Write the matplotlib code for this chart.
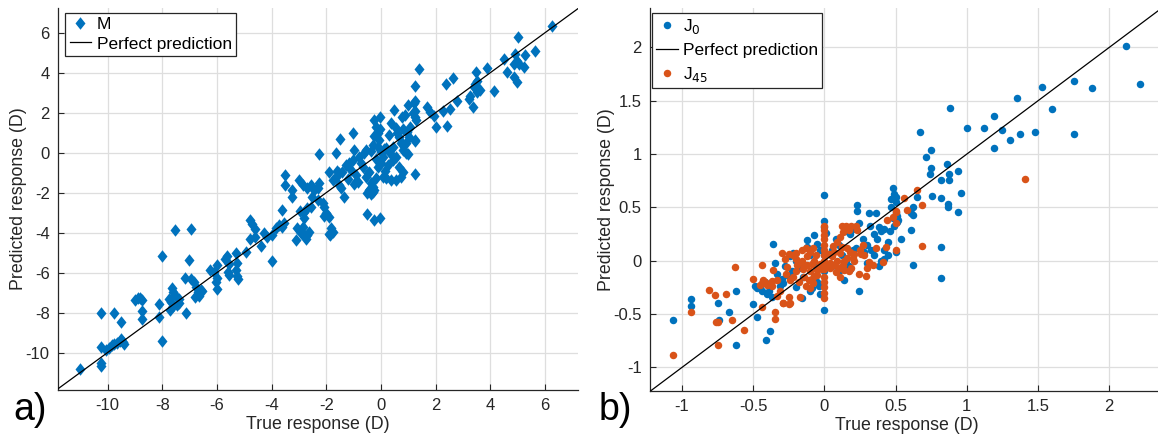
import numpy as np
import matplotlib
matplotlib.use("Agg")
import matplotlib.pyplot as plt
from matplotlib.lines import Line2D
from matplotlib.ticker import FuncFormatter

plt.rcParams['font.family'] = ['Liberation Sans', 'DejaVu Sans']
plt.rcParams['axes.unicode_minus'] = False

"""
Data read off the reference (true response, predicted response) [D]
"""

m_pairs = [
    (-11.0, -10.8),
    (-10.25, -8.03), (-10.25, -9.7), (-10.25, -10.5), (-10.22, -10.65),
    (-10.05, -9.87), (-9.95, -9.75), (-9.85, -9.62), (-9.75, -9.55), (-9.65, -9.5),
    (-9.55, -9.4), (-9.45, -9.45), (-9.38, -9.55), (-9.5, -9.3),
    (-9.75, -8.0), (-9.5, -8.45),
    (-9.0, -7.35), (-8.9, -7.27), (-8.8, -7.27), (-8.73, -7.37),
    (-8.75, -7.9), (-8.75, -8.3),
    (-8.13, -7.57), (-8.13, -8.2),
    (-8.02, -5.17), (-8.0, -9.4),
    (-7.54, -3.87), (-6.93, -3.8), (-7.03, -5.37), (-7.18, -6.25), (-7.14, -8.03),
    (-7.66, -6.78), (-7.6, -6.95), (-7.54, -7.12), (-7.75, -7.3), (-7.68, -7.45),
    (-7.72, -7.85), (-7.6, -7.65), (-7.45, -7.6), (-7.38, -7.5), (-7.4, -7.3),
    (-6.93, -6.3), (-6.82, -6.45), (-6.75, -6.7), (-6.7, -6.95), (-6.65, -7.15),
    (-6.8, -7.2), (-6.6, -6.85), (-6.55, -6.9),
    (-6.25, -5.85), (-6.12, -5.95), (-6.0, -5.6), (-6.0, -6.25), (-6.0, -6.8), (-6.05, -6.45),
    (-5.7, -5.3), (-5.65, -5.15), (-5.55, -5.55), (-5.55, -6.1), (-5.6, -5.95),
    (-5.3, -5.85), (-5.27, -6.15), (-5.22, -6.3), (-5.3, -5.0), (-5.25, -5.5),
    (-4.93, -4.95),
    (-4.8, -3.37), (-4.7, -3.55), (-4.62, -3.8), (-4.8, -4.3),
    (-4.59, -4.2), (-4.4, -4.65), (-4.28, -4.03), (-4.16, -4.2), (-3.98, -4.12),
    (-3.85, -3.78), (-3.73, -3.62), (-3.61, -2.87), (-3.61, -3.7), (-3.55, -3.5),
    (-4.0, -5.42),
    (-3.51, -1.12), (-3.51, -1.62), (-3.24, -1.87), (-3.27, -2.2),
    (-3.12, -4.37), (-3.06, -3.78), (-2.94, -4.03), (-2.81, -4.12), (-2.69, -4.12),
    (-2.63, -3.95), (-2.87, -3.7), (-2.81, -3.28), (-2.75, -4.3),
    (-3.0, -1.37), (-2.87, -1.62), (-2.69, -1.78), (-2.57, -1.62), (-2.45, -1.87),
    (-2.26, -1.53), (-2.3, -1.75),
    (-2.69, -2.78), (-2.57, -2.7), (-2.81, -2.95), (-2.95, -2.9),
    (-2.51, -2.2), (-2.32, -2.37), (-2.14, -2.53), (-2.08, -2.7), (-2.02, -3.03),
    (-1.9, -3.2), (-2.1, -3.15),
    (-2.26, -0.05),
    (-1.83, -3.78), (-1.77, -3.95), (-1.9, -4.05), (-1.85, -4.1),
    (-1.9, -0.95), (-1.77, -1.37), (-1.65, -1.2), (-1.53, -1.03), (-1.41, -0.95),
    (-1.28, -0.62), (-1.37, -2.2), (-1.6, -0.9), (-1.55, -1.6), (-1.45, -1.75), (-1.2, -1.3),
    (-1.63, 0.0), (-1.5, 0.67),
    (-1.16, -0.53), (-1.1, -0.87), (-1.04, -0.37), (-0.98, 0.13), (-1.02, 0.97),
    (-1.0, -1.55), (-0.9, -1.1), (-0.85, -1.45),
    (-0.8, -0.2), (-0.73, -0.53), (-0.67, -0.7), (-0.61, -0.03), (-0.55, 0.13),
    (-0.49, -1.03), (-0.43, -0.95), (-0.37, -1.53), (-0.43, -1.87), (-0.55, -1.2),
    (-0.5, -2.0), (-0.4, -1.8), (-0.3, -1.95), (-0.35, -2.05),
    (-0.53, -3.07), (-0.26, -3.37), (-0.03, -3.25),
    (-0.25, 1.63), (-0.04, 1.8), (-0.18, 1.3), (-0.12, 0.97), (-0.06, 0.63),
    (-0.12, 0.3), (0.0, 0.05), (0.06, -0.2), (0.0, -0.53), (0.06, -1.2),
    (-0.18, -1.28), (-0.31, -1.7), (-0.24, -1.87), (-0.3, 0.4), (-0.35, 0.1),
    (-0.2, -0.3), (-0.1, -0.7), (0.1, 0.2), (-0.05, 1.2), (-0.25, 0.85),
    (0.18, 0.22), (0.31, -0.03), (0.43, -0.37), (0.55, -0.2), (0.67, -0.7),
    (0.73, -1.2), (0.8, -0.95), (0.55, -1.37), (0.37, -1.37), (0.18, -1.28),
    (0.25, -0.6), (0.15, -0.9),
    (0.37, 1.47), (0.49, 2.13), (0.55, 1.22), (0.67, 0.8), (0.73, 0.47),
    (0.8, 0.13), (0.92, 0.47), (0.92, -0.03), (1.04, 0.8), (0.86, 1.88),
    (0.98, 2.38), (1.16, 1.97), (1.2, 2.47), (1.29, 1.63), (1.25, 0.63),
    (1.25, -1.05), (1.0, -0.07),
    (0.75, 1.77), (0.82, 1.18), (0.94, 1.02), (1.06, 1.27), (0.82, 0.43),
    (0.6, 1.0), (0.45, 0.3), (0.3, 0.9),
    (1.24, 3.35), (1.24, 2.6), (1.24, 2.1), (1.24, 1.77), (1.24, 0.6),
    (1.4, 4.18),
    (1.67, 2.27), (1.79, 2.02), (1.94, 1.84),
    (2.01, 1.3), (2.28, 2.1), (2.38, 3.43), (2.4, 1.35), (2.53, 2.18),
    (2.62, 3.73), (2.77, 2.6),
    (3.2, 2.68), (3.26, 2.85), (3.36, 2.27), (3.38, 3.3), (3.44, 3.43),
    (3.5, 3.6), (3.48, 4.02), (3.56, 3.18), (3.62, 3.13), (3.5, 3.02),
    (3.87, 4.22), (4.14, 3.1),
    (4.48, 4.68), (4.6, 4.05), (4.87, 3.77), (4.97, 3.52), (4.9, 4.93),
    (4.97, 4.6), (4.85, 4.43), (5.03, 4.43), (4.99, 5.8), (5.27, 4.9),
    (5.24, 4.3), (5.64, 5.1),
    (6.25, 6.35),
]

j0_pairs = [
    (-1.06, -0.56), (-0.94, -0.36), (-0.94, -0.42), (-0.75, -0.4), (-0.74, -0.56),
    (-0.67, -0.48), (-0.62, -0.28), (-0.62, -0.79), (-0.41, -0.74), (-0.38, -0.66),
    (-0.5, -0.41), (-0.47, -0.53),
    (-0.47, -0.26), (-0.49, -0.24), (-0.44, -0.28), (-0.4, -0.31), (-0.37, -0.34),
    (-0.39, -0.28), (-0.45, -0.26), (-0.36, 0.16), (-0.42, -0.2),
    (-0.33, -0.12), (-0.3, -0.17), (-0.26, -0.13), (-0.29, -0.21), (-0.31, -0.24),
    (-0.28, -0.05), (-0.35, -0.02),
    (-0.22, 0.07), (-0.24, 0.04), (-0.2, 0.0), (-0.18, -0.07), (-0.23, -0.1),
    (-0.15, -0.15), (-0.2, -0.25), (-0.1, -0.28), (-0.09, -0.26), (-0.04, -0.24),
    (-0.03, -0.31), (-0.16, -0.35), (-0.05, -0.2),
    (-0.12, 0.19), (-0.075, 0.24), (-0.12, 0.13), (-0.05, 0.16), (-0.03, 0.1),
    (-0.1, 0.05), (-0.06, -0.05),
    (0.0, 0.62), (0.0, 0.37), (0.0, 0.32), (0.01, 0.26), (0.0, -0.46),
    (0.0, 0.05), (0.0, -0.1),
    (0.05, 0.1), (0.1, 0.15), (0.12, 0.05), (0.15, 0.0), (0.1, -0.1),
    (0.18, -0.08), (0.2, 0.1), (0.05, -0.05), (0.14, -0.18), (0.08, 0.2),
    (0.18, 0.25), (0.2, 0.3), (0.15, 0.28), (0.22, 0.12), (0.17, -0.05),
    (0.23, 0.52), (0.23, 0.47), (0.31, 0.445), (0.36, 0.445), (0.24, -0.28),
    (0.24, 0.35), (0.27, 0.2), (0.3, 0.15), (0.33, 0.1), (0.35, 0.05),
    (0.3, -0.02), (0.38, -0.05), (0.4, 0.0), (0.42, 0.02), (0.45, 0.05),
    (0.5, 0.08), (0.38, 0.32), (0.4, 0.28), (0.42, 0.3), (0.37, 0.2),
    (0.35, 0.25), (0.45, 0.18), (0.32, 0.33), (0.28, 0.08), (0.42, 0.1),
    (0.48, 0.68), (0.49, 0.63), (0.47, 0.58), (0.5, 0.55), (0.47, 0.5),
    (0.5, 0.45), (0.48, 0.4), (0.51, 0.36), (0.49, 0.33), (0.46, 0.28),
    (0.52, 0.38), (0.51, 0.42), (0.5, 0.6),
    (0.65, 0.6), (0.62, 0.5), (0.61, 0.45), (0.62, 0.43), (0.61, 0.29),
    (0.54, 0.2), (0.62, -0.04),
    (0.67, 1.21), (0.75, 1.04), (0.71, 0.97), (0.75, 0.87), (0.74, 0.815),
    (0.86, 0.906), (0.875, 0.815), (0.82, 0.76), (0.875, 0.76), (0.94, 0.84),
    (0.96, 0.636), (0.82, 0.59), (0.755, 0.61), (0.87, 0.536), (0.87, 0.505),
    (0.94, 0.46), (0.82, 0.125), (0.82, -0.16), (0.88, 1.43),
    (1.0, 1.245), (1.12, 1.24), (1.19, 1.36), (1.25, 1.23), (1.19, 1.056),
    (1.3, 1.135), (1.376, 1.19), (1.477, 1.21), (1.355, 1.53), (1.53, 1.63),
    (1.6, 1.42), (1.75, 1.69), (1.88, 1.62), (1.75, 1.19), (2.116, 2.016),
    (2.217, 1.655),
]

j45_pairs = [
    (-1.06, -0.88), (-0.94, -0.48), (-0.81, -0.27), (-0.77, -0.32), (-0.69, -0.31),
    (-0.76, -0.57), (-0.75, -0.57), (-0.75, -0.79), (-0.65, -0.56), (-0.565, -0.65),
    (-0.63, -0.06), (-0.5, -0.17), (-0.44, -0.04), (-0.44, -0.43), (-0.35, -0.48),
    (-0.35, -0.55), (-0.33, -0.33), (-0.29, -0.4), (-0.25, -0.41), (-0.44, -0.21),
    (-0.42, -0.2), (-0.4, -0.23), (-0.37, -0.19),
    (-0.36, -0.09), (-0.33, -0.18), (-0.37, -0.24), (-0.43, -0.18), (-0.45, -0.23),
    (-0.31, -0.28), (-0.25, -0.34), (-0.24, -0.4), (-0.29, -0.4), (-0.17, -0.34),
    (-0.3, 0.07), (-0.28, 0.02), (-0.25, 0.06), (-0.22, 0.05), (-0.2, 0.07),
    (-0.12, 0.04), (-0.1, 0.08), (-0.09, -0.03), (-0.07, 0.0), (-0.12, -0.04),
    (-0.14, -0.05), (-0.15, -0.08), (-0.14, -0.15), (-0.11, -0.18), (-0.09, -0.17),
    (-0.07, -0.14), (-0.13, -0.24), (-0.1, -0.26), (-0.05, -0.13), (-0.04, -0.06),
    (-0.19, -0.04), (-0.2, -0.1), (-0.22, -0.15), (-0.18, -0.2), (-0.26, -0.06),
    (-0.27, -0.12), (-0.24, -0.18), (-0.2, 0.02), (-0.16, 0.0), (-0.13, 0.12),
    (-0.08, 0.12), (-0.06, 0.05), (-0.05, -0.09), (-0.03, -0.03), (-0.02, -0.08),
    (-0.16, 0.1), (-0.1, -0.1), (-0.08, -0.21),
    (0.0, 0.33), (0.0, 0.29), (0.0, 0.24), (0.0, 0.2), (0.0, 0.15),
    (0.0, 0.1), (0.0, 0.05), (0.0, 0.0), (0.0, -0.04), (0.0, -0.08),
    (0.0, -0.15), (0.0, -0.2), (0.0, -0.25), (0.0, -0.3), (0.0, -0.35),
    (0.12, 0.33), (0.15, 0.33), (0.19, 0.33), (0.22, 0.33), (0.23, 0.29),
    (0.17, 0.29), (0.13, 0.27), (0.11, 0.22), (0.09, 0.18), (0.12, 0.13),
    (0.16, 0.12), (0.18, 0.08), (0.07, 0.08), (0.11, 0.07), (0.14, 0.0),
    (0.16, 0.03), (0.2, 0.03), (0.21, 0.0), (0.09, 0.0), (0.07, -0.04),
    (0.1, -0.07), (0.14, -0.09), (0.04, -0.07), (0.08, -0.11), (0.11, -0.15),
    (0.05, 0.04), (0.03, 0.06), (0.06, 0.14), (0.04, -0.02), (0.13, -0.04),
    (0.19, -0.07), (0.17, -0.1), (0.21, 0.06),
    (0.25, 0.1), (0.28, 0.05), (0.31, -0.01), (0.3, -0.07), (0.34, -0.04),
    (0.24, -0.12), (0.36, 0.12), (0.27, 0.15), (0.29, -0.14), (0.26, 0.06),
    (0.43, 0.13), (0.5, 0.1), (0.41, -0.01), (0.48, 0.41), (0.5, 0.46),
    (0.44, 0.38), (0.5, 0.47), (0.5, 0.35), (0.56, 0.59), (0.58, 0.48),
    (0.65, 0.66), (0.685, 0.527), (0.685, 0.14), (1.41, 0.77),
]

m_true, m_pred = np.array(m_pairs).T
j0_true, j0_pred = np.array(j0_pairs).T
j45_true, j45_pred = np.array(j45_pairs).T

m_ticks = [-10, -8, -6, -4, -2, 0, 2, 4, 6]
j_ticks = [-1, -0.5, 0, 0.5, 1, 1.5, 2]

blue = '#0072BD'
orange = '#D95319'
text_col = '#262626'

# MATLAB-like diamond, a bit taller than wide
diamond = [(0, 1), (0.8, 0), (0, -1), (-0.8, 0), (0, 1)]
dsize = 9.0
dot = 5.4


def style_axes(ax, ticks):
    ax.set_xticks(ticks)
    ax.set_yticks(ticks)
    fmt = FuncFormatter(lambda v, p: '%g' % v)
    ax.xaxis.set_major_formatter(fmt)
    ax.yaxis.set_major_formatter(fmt)
    ax.grid(True, color='#dedede', linewidth=0.9)
    ax.set_axisbelow(True)
    for side in ['top', 'right']:
        ax.spines[side].set_visible(False)
    for side in ['left', 'bottom']:
        ax.spines[side].set_color(text_col)
        ax.spines[side].set_linewidth(0.9)
    ax.tick_params(direction='in', length=4, width=0.8, colors=text_col,
                   labelsize=12, pad=6)
    ax.set_xlabel('True response (D)', fontsize=12.8, color=text_col, labelpad=2)
    ax.set_ylabel('Predicted response (D)', fontsize=12.8, color=text_col, labelpad=-1)


def add_legend(ax, handles, labels, x0, spacing):
    leg = ax.legend(handles, labels, loc='upper left',
                    bbox_to_anchor=(x0, 0.988), fancybox=False, framealpha=1,
                    edgecolor=text_col, fontsize=12.5, handlelength=1.25,
                    handletextpad=0.3, borderpad=0.25, labelspacing=spacing,
                    borderaxespad=0)
    leg.get_frame().set_linewidth(0.9)
    return leg


fig = plt.figure(figsize=(11.58, 4.38), dpi=100)

# panel a)
ax1 = fig.add_axes([58 / 1158, 48 / 438, 520 / 1158, 382 / 438])
ax1.plot(m_true, m_pred, marker=diamond, linestyle='none', color=blue,
         markersize=dsize, markeredgewidth=0, zorder=2)
ax1.plot([-20, 20], [-20, 20], color='k', linewidth=0.9, zorder=3)
ax1.set_xlim(-11.81, 7.2)
ax1.set_ylim(-11.87, 7.23)
style_axes(ax1, m_ticks)
h1 = [Line2D([], [], marker=diamond, color=blue, linestyle='none', markersize=dsize, markeredgewidth=0),
      Line2D([], [], color='k', linewidth=0.9)]
add_legend(ax1, h1, ['M', 'Perfect prediction'], 0.014, 0.25)
fig.text(30 / 1158, 1 - 410 / 438, 'a)', fontsize=27, ha='center', va='center')

# panel b)
ax2 = fig.add_axes([650 / 1158, 47.5 / 438, 513 / 1158, 382.5 / 438])
ax2.plot(j0_true, j0_pred, 'o', color=blue, markersize=dot, markeredgewidth=0, zorder=2)
ax2.plot([-5, 5], [-5, 5], color='k', linewidth=0.9, zorder=4)
ax2.plot(j45_true, j45_pred, 'o', color=orange, markersize=dot, markeredgewidth=0, zorder=3)
ax2.set_xlim(-1.225, 2.378)
ax2.set_ylim(-1.217, 2.37)
style_axes(ax2, j_ticks)
h2 = [Line2D([], [], marker='o', color=blue, linestyle='none', markersize=dot, markeredgewidth=0),
      Line2D([], [], color='k', linewidth=0.9),
      Line2D([], [], marker='o', color=orange, linestyle='none', markersize=dot, markeredgewidth=0)]
add_legend(ax2, h2, ['J$_0$', 'Perfect prediction', 'J$_{45}$'], 0.003, 0.4)
fig.text(615 / 1158, 1 - 410 / 438, 'b)', fontsize=27, ha='center', va='center')

fig.savefig('out.png', dpi=100)
